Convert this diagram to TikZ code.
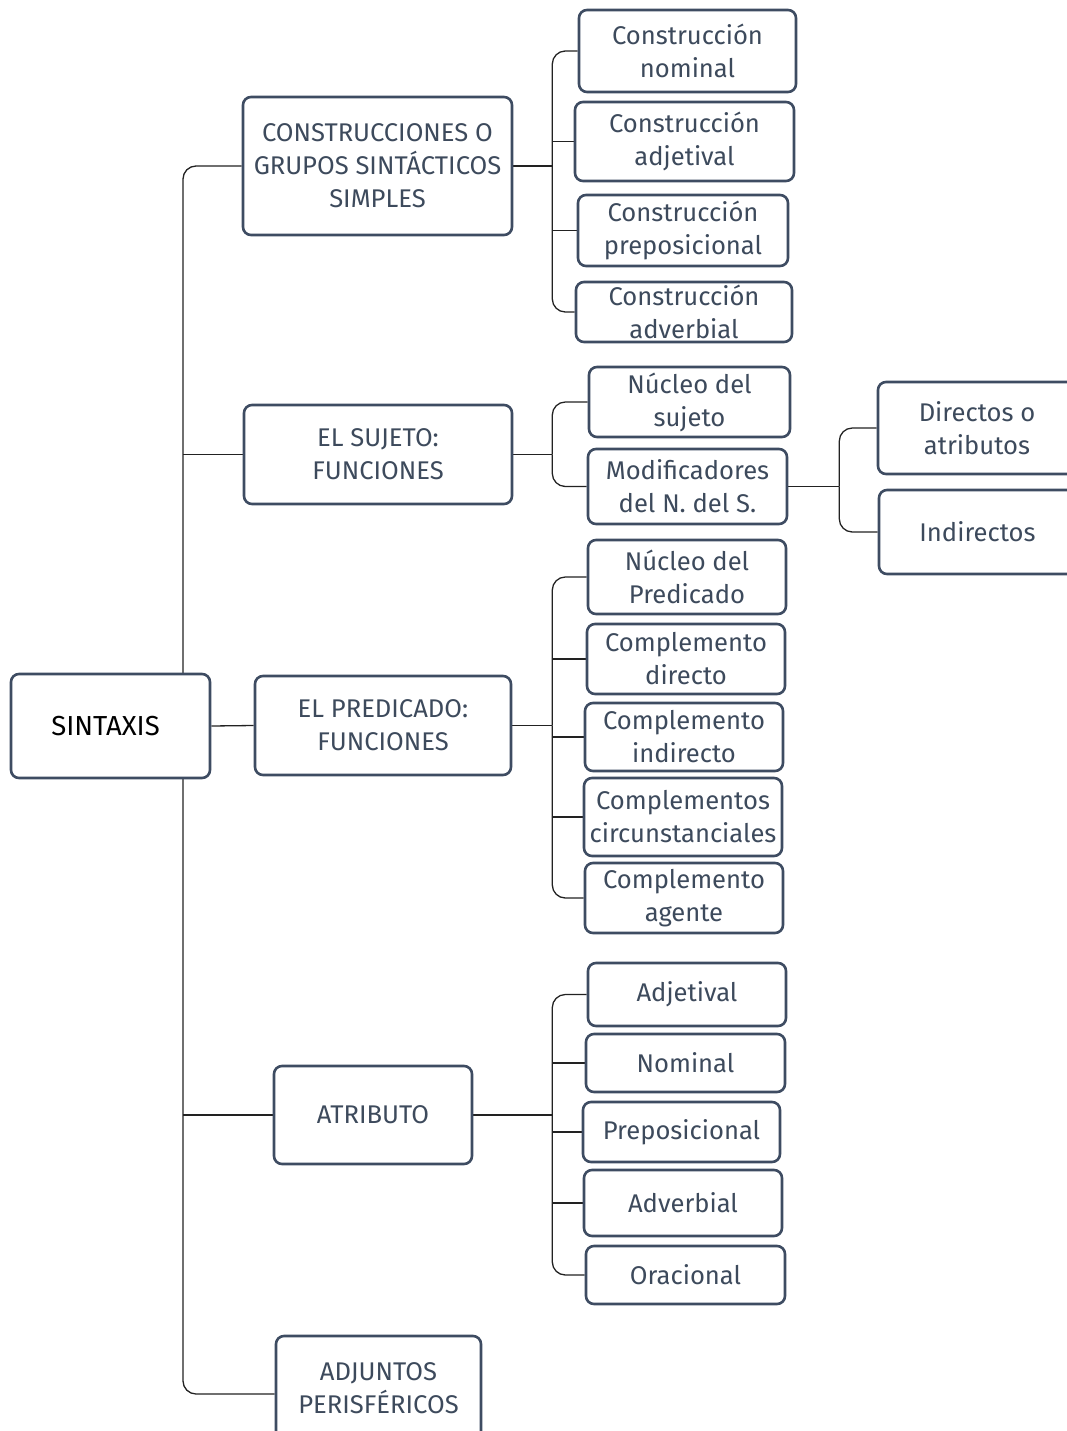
\documentclass[tikz,border=0pt]{standalone}
\usepackage{fontspec}
\setmainfont{Fira Sans}
\usetikzlibrary{backgrounds}
\definecolor{boxc}{HTML}{3E4C62}
\definecolor{txtc}{HTML}{3D4A5C}
\definecolor{linec}{HTML}{222222}
\newcommand\bx[7][]{\node[box,#1,minimum width={(#5)-(#3)},minimum height={(#6)-(#4)}] (#2) at ({((#3)+(#5))/2},{((#4)+(#6))/2}) {#7};}
\tikzset{
  box/.style={draw=boxc,line width=2.6pt,rounded corners=8pt,fill=white,text=txtc,align=center,inner sep=0pt,font=\fontsize{25.6}{33}\selectfont},
  conn/.style={draw=linec,line width=1.3pt},
  rc/.style={rounded corners=13pt}
}
\begin{document}
\begin{tikzpicture}[x=1pt,y=-1pt]
\useasboundingbox (0,0) rectangle (1067,1431);
\clip (0,0) rectangle (1067,1431);
% level 0 and 1
\bx[text=black,font=\fontsize{27.5}{33}\selectfont]{sin}{11}{674}{210}{778}{\hspace*{-10pt}SINTAXIS}
\bx{cgs}{243}{97}{512}{235}{CONSTRUCCIONES O\\GRUPOS SINTÁCTICOS\\SIMPLES}
\bx{suj}{244}{405}{512}{504}{EL SUJETO:\\FUNCIONES}
\bx{pred}{255}{676}{511}{775}{EL PREDICADO:\\FUNCIONES}
\bx{atr}{274}{1066}{472}{1164}{ATRIBUTO}
\bx{adj}{276}{1336}{481}{1440}{ADJUNTOS\\PERISFÉRICOS}
% construcciones
\bx{cnom}{579}{10}{796}{92}{Construcción\\nominal}
\bx{cadj}{575}{102}{794}{181}{Construcción\\adjetival}
\bx{cpre}{578}{195}{788}{266}{Construcción\\preposicional}
\bx{cadv}{576}{282}{792}{342}{Construcción\\adverbial}
% sujeto
\bx{nsuj}{589}{367}{790}{437}{Núcleo del\\sujeto}
\bx{mod}{588}{449}{787}{524}{Modificadores\\del N. del S.}
\bx{dir}{878}{382}{1076}{474}{Directos o\\atributos}
\bx{ind}{879}{490}{1076}{574}{Indirectos}
% predicado
\bx{npred}{588}{540}{786}{614}{Núcleo del\\Predicado}
\bx{cd}{587}{624}{785}{694}{Complemento\\directo}
\bx{ci}{585}{703}{783}{771}{Complemento\\indirecto}
\bx{cc}{584}{778}{782}{856}{Complementos\\circunstanciales}
\bx{cag}{585}{863}{783}{933}{Complemento\\agente}
% atributo
\bx{aadj}{588}{963}{786}{1026}{Adjetival}
\bx{anom}{586}{1034}{785}{1092}{Nominal}
\bx{apre}{583}{1102}{780}{1162}{Preposicional}
\bx{aadv}{584}{1170}{782}{1236}{Adverbial}
\bx{aora}{586}{1246}{785}{1304}{Oracional}
\begin{scope}[on background layer]
% trunk
\coordinate (t) at (183,725);
\draw[conn,rc] (t) |- (cgs.west);
\draw[conn,rc] (t) |- ([yshift=-6pt]adj.west);
\draw[conn] (t |- suj.west) -- (suj.west);
\draw[conn] (t |- atr.west) -- (atr.west);
\draw[conn] (sin.east) -- (pred.west);
% construcciones
\path (cgs.east) ++(39,0) coordinate (b1);
\draw[conn] (cgs.east) -- (b1);
\draw[conn,rc] (b1) |- (cnom.west);
\draw[conn,rc] (b1) |- (cadv.west);
\draw[conn] (b1 |- cadj.west) -- (cadj.west);
\draw[conn] (b1 |- cpre.west) -- (cpre.west);
% sujeto
\path (suj.east) ++(39,0) coordinate (b2);
\draw[conn] (suj.east) -- (b2);
\draw[conn,rc] (b2) |- (nsuj.west);
\draw[conn,rc] (b2) |- (mod.west);
\path (mod.east) ++(51,0) coordinate (b3);
\draw[conn] (mod.east) -- (b3);
\draw[conn,rc] (b3) |- (dir.west);
\draw[conn,rc] (b3) |- (ind.west);
% predicado
\path (pred.east) ++(40,0) coordinate (b4);
\draw[conn] (pred.east) -- (b4);
\draw[conn,rc] (b4) |- (npred.west);
\draw[conn,rc] (b4) |- (cag.west);
\draw[conn] (b4 |- cd.west) -- (cd.west);
\draw[conn] (b4 |- ci.west) -- (ci.west);
\draw[conn] (b4 |- cc.west) -- (cc.west);
% atributo
\path (atr.east) ++(79,0) coordinate (b5);
\draw[conn] (atr.east) -- (b5);
\draw[conn,rc] (b5) |- (aadj.west);
\draw[conn,rc] (b5) |- (aora.west);
\draw[conn] (b5 |- anom.west) -- (anom.west);
\draw[conn] (b5 |- apre.west) -- (apre.west);
\draw[conn] (b5 |- aadv.west) -- (aadv.west);
\end{scope}
\end{tikzpicture}
\end{document}
